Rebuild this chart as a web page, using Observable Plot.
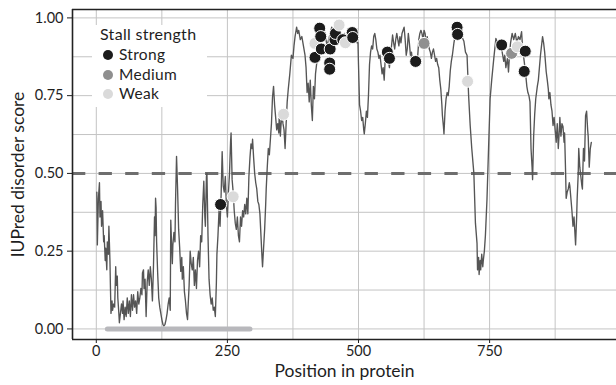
<!DOCTYPE html>
<html>
<head>
<meta charset="utf-8">
<script src="https://cdn.jsdelivr.net/npm/d3@7"></script>
<script src="https://cdn.jsdelivr.net/npm/@observablehq/plot@0.6"></script>
<style>
  html, body { margin: 0; padding: 0; background: #fff; }
  #wrap { position: relative; width: 616px; height: 385px; font-family: Lato, sans-serif; color: #1e1e1e; }
  #legend { position: absolute; left: 92px; top: 25px; width: 115px; height: 82px; background: #fff; }
  #legend .t { position: absolute; left: 8px; top: 0px; font-size: 16px; line-height: 18px; white-space: nowrap; letter-spacing: 0.3px; }
  #legend .i { position: absolute; left: 11px; height: 18px; font-size: 15.5px; line-height: 18px; white-space: nowrap; letter-spacing: 0.3px; }
  #legend .i span.c { display: inline-block; width: 10px; height: 10px; border-radius: 50%; vertical-align: middle; margin-right: 6px; position: relative; top: -1px; }
</style>
</head>
<body>
<div id="wrap"></div>
<script>
// IUPred disorder score profile (position, score)
const positions = [1,2,4,6,7,9,10,12,14,15,17,18,20,21,23,24,26,27,28,30,31,33,35,37,38,40,41,43,44,46,48,50,51,53,55,57,59,61,63,65,67,69,71,73,75,77,79,81,83,85,87,88,90,91,93,95,97,99,101,103,105,107,109,111,112,113,114,115,117,119,121,123,125,127,129,131,133,135,137,139,141,142,143,145,146,148,150,151,153,155,157,159,161,163,164,166,168,170,172,174,175,177,179,181,183,185,187,189,191,193,195,197,199,201,203,205,207,208,210,211,213,215,217,219,221,223,225,227,229,230,232,234,236,238,240,242,244,246,248,250,252,254,256,257,259,261,263,265,267,269,271,273,275,277,279,281,283,285,287,289,291,293,295,297,298,300,302,304,306,308,310,312,314,316,317,319,321,323,324,326,328,330,332,334,336,338,340,342,344,346,348,349,351,352,354,356,358,360,362,364,366,369,372,375,377,379,382,384,386,389,392,395,398,400,402,404,406,408,410,412,414,416,418,420,423,425,428,431,434,437,440,443,446,449,452,455,458,461,464,467,470,473,476,479,482,485,488,491,494,497,499,500,502,504,506,508,510,511,513,515,517,519,521,523,525,527,529,531,533,535,537,539,541,543,545,547,549,551,553,555,557,559,561,563,565,567,569,571,573,575,577,579,581,583,585,587,589,591,593,595,597,599,601,603,605,607,609,611,613,615,617,619,621,623,625,627,629,631,633,635,637,639,641,643,645,647,649,651,653,655,657,659,660,662,663,665,667,669,671,673,675,677,679,682,685,688,691,694,697,701,704,707,710,713,716,720,723,726,727,729,730,732,733,735,737,738,740,742,745,748,751,754,758,762,765,768,771,774,777,779,781,784,786,788,790,793,796,799,802,805,808,811,813,816,819,821,823,825,827,829,831,832,834,836,838,841,843,845,847,849,851,853,855,858,860,862,863,865,867,869,871,873,875,877,879,881,883,884,886,888,890,892,893,895,896,898,900,902,903,905,907,909,911,913,914,916,917,919,920,922,924,926,927,928,929,931,933,935,937,938,940,942,944];
const scores = [0.44,0.27,0.42,0.47,0.36,0.41,0.33,0.38,0.28,0.30,0.22,0.26,0.19,0.28,0.24,0.33,0.22,0.13,0.05,0.09,0.06,0.08,0.07,0.20,0.14,0.17,0.10,0.05,0.02,0.05,0.08,0.05,0.09,0.03,0.07,0.04,0.10,0.05,0.09,0.04,0.11,0.06,0.11,0.07,0.09,0.05,0.12,0.08,0.10,0.13,0.11,0.18,0.19,0.13,0.16,0.04,0.15,0.19,0.14,0.20,0.16,0.09,0.20,0.36,0.30,0.42,0.39,0.28,0.18,0.10,0.07,0.05,0.03,0.015,0.01,0.015,0.03,0.05,0.08,0.10,0.06,0.35,0.30,0.21,0.27,0.31,0.28,0.40,0.555,0.45,0.32,0.26,0.185,0.23,0.16,0.20,0.12,0.09,0.05,0.03,0.07,0.14,0.25,0.21,0.19,0.23,0.14,0.19,0.13,0.22,0.25,0.20,0.30,0.28,0.40,0.475,0.36,0.33,0.49,0.50,0.30,0.16,0.11,0.08,0.10,0.06,0.07,0.04,0.15,0.24,0.30,0.38,0.33,0.43,0.57,0.46,0.44,0.49,0.40,0.36,0.44,0.50,0.60,0.63,0.48,0.44,0.38,0.34,0.32,0.36,0.30,0.28,0.36,0.33,0.38,0.36,0.40,0.37,0.42,0.37,0.49,0.55,0.595,0.58,0.61,0.55,0.50,0.47,0.45,0.41,0.40,0.37,0.30,0.23,0.20,0.26,0.32,0.40,0.45,0.52,0.58,0.56,0.61,0.66,0.745,0.78,0.72,0.68,0.64,0.66,0.63,0.70,0.62,0.65,0.69,0.66,0.64,0.58,0.66,0.73,0.77,0.82,0.88,0.87,0.91,0.94,0.97,0.95,0.96,0.93,0.94,0.91,0.88,0.84,0.76,0.79,0.73,0.80,0.72,0.67,0.78,0.74,0.82,0.85,0.88,0.92,0.95,0.93,0.96,0.94,0.91,0.93,0.95,0.97,0.95,0.96,0.93,0.95,0.97,0.94,0.92,0.95,0.93,0.96,0.94,0.95,0.94,0.96,0.93,0.92,0.92,0.85,0.72,0.70,0.67,0.68,0.64,0.627,0.66,0.70,0.68,0.75,0.85,0.89,0.91,0.90,0.94,0.95,0.93,0.90,0.89,0.87,0.88,0.85,0.82,0.84,0.80,0.87,0.86,0.89,0.86,0.84,0.88,0.91,0.945,0.92,0.90,0.93,0.95,0.93,0.91,0.94,0.92,0.95,0.96,0.97,0.93,0.88,0.90,0.95,0.92,0.88,0.89,0.86,0.87,0.85,0.87,0.86,0.88,0.93,0.95,0.96,0.95,0.93,0.96,0.95,0.92,0.94,0.92,0.90,0.89,0.87,0.89,0.90,0.88,0.86,0.87,0.85,0.84,0.80,0.77,0.72,0.686,0.65,0.627,0.70,0.74,0.76,0.75,0.78,0.83,0.86,0.88,0.92,0.95,0.97,0.96,0.95,0.94,0.925,0.89,0.88,0.75,0.654,0.58,0.50,0.34,0.276,0.19,0.23,0.175,0.22,0.19,0.24,0.20,0.22,0.25,0.30,0.416,0.58,0.74,0.80,0.87,0.934,0.92,0.90,0.92,0.89,0.86,0.88,0.84,0.87,0.826,0.88,0.92,0.95,0.93,0.95,0.92,0.94,0.93,0.956,0.90,0.86,0.815,0.78,0.76,0.75,0.73,0.58,0.52,0.48,0.62,0.69,0.74,0.78,0.80,0.84,0.88,0.91,0.94,0.92,0.89,0.826,0.80,0.77,0.74,0.76,0.72,0.70,0.654,0.68,0.64,0.60,0.66,0.58,0.64,0.68,0.62,0.66,0.65,0.60,0.63,0.50,0.42,0.44,0.45,0.47,0.46,0.42,0.38,0.33,0.36,0.30,0.27,0.36,0.42,0.50,0.58,0.52,0.49,0.46,0.45,0.52,0.58,0.54,0.686,0.70,0.64,0.62,0.52,0.58,0.60];

// Stall sites
const stallPos      = [237,261,357,417,417,426,428,429,445,445,446,455,456,463,470,475,488,489,555,559,609,625,688,689,708,773,792,803,816,818];
const stallScore    = [0.40,0.425,0.69,0.918,0.873,0.967,0.94,0.90,0.855,0.835,0.90,0.93,0.95,0.977,0.93,0.92,0.953,0.937,0.89,0.87,0.86,0.918,0.97,0.947,0.796,0.913,0.886,0.907,0.828,0.893];
const stallStrength = ["Strong","Weak","Weak","Weak","Strong","Strong","Strong","Strong","Strong","Strong","Strong","Strong","Strong","Weak","Strong","Weak","Strong","Strong","Strong","Strong","Strong","Medium","Strong","Strong","Weak","Strong","Medium","Weak","Strong","Strong"];

const strengthLevels = ["Strong","Medium","Weak"];
const strengthColors = ["#1c1c1c","#8f8f8f","#dadada"];

// Highlighted region on the x axis
const regionStart = [21];
const regionEnd = [293];

const xTicks = [0,250,500,750];
const xGrid = [0,125,250,375,500,625,750,875];
const yTicks = [0,0.25,0.5,0.75,1];
const yGrid = [0,0.125,0.25,0.375,0.5,0.625,0.75,0.875,1];
const threshold = [0.5];

const profile = positions.map((p,i)=>({pos:p, score:scores[i]}));
const stalls = stallPos.map((p,i)=>({pos:p, score:stallScore[i], strength:stallStrength[i]}));
const region = regionStart.map((s,i)=>({x1:s, x2:regionEnd[i], y:0}));

const xDom = [-45.4, 992];
const yDom = [-0.034, 1.027];

const chart = Plot.plot({
  width: 616, height: 385,
  marginLeft: 72, marginRight: 0, marginTop: 9, marginBottom: 46,
  style: {fontFamily: "Lato, sans-serif", fontSize: "14px", color: "#1e1e1e", background: "#fff"},
  x: {domain: xDom},
  y: {domain: yDom},
  color: {domain: strengthLevels, range: strengthColors},
  marks: [
    Plot.ruleX(xGrid, {stroke: "#c4c4c4", strokeWidth: 1}),
    Plot.ruleY(yGrid, {stroke: "#c4c4c4", strokeWidth: 1}),
    Plot.ruleY(threshold, {stroke: "#6e6e6e", strokeWidth: 3, strokeDasharray: "13.3,13.3"}),
    Plot.link(region, {x1: "x1", x2: "x2", y1: "y", y2: "y", stroke: "#b8b8bc", strokeWidth: 5, strokeLinecap: "round"}),
    Plot.line(profile, {x: "pos", y: "score", stroke: "#555", strokeWidth: 1.35}),
    Plot.dot(stalls, {x: "pos", y: "score", fill: "strength", stroke: "white", strokeWidth: 1, r: 6}),
    Plot.ruleX([xDom[0]], {stroke: "#222", strokeWidth: 1.6}),
    Plot.ruleY([yDom[0]], {stroke: "#222", strokeWidth: 1.6}),
    Plot.ruleY([yDom[1]], {stroke: "#222", strokeWidth: 1.3}),
    Plot.axisX({ticks: xTicks, tickSize: 4, tickPadding: 2, label: null, fontSize: 14.5}),
    Plot.axisY({ticks: yTicks, tickSize: 5, tickPadding: 4, tickFormat: d3.format(".2f"), label: null, fontSize: 14.5}),
    Plot.text(["Position in protein"], {frameAnchor: "bottom", textAnchor: "middle", lineAnchor: "middle", dy: 32, fontSize: 17.5, fill: "#1e1e1e", letterSpacing: "0.4px"}),
    Plot.text(["IUPred disorder score"], {frameAnchor: "left", textAnchor: "middle", lineAnchor: "middle", dx: -54, rotate: -90, fontSize: 17.5, fill: "#1e1e1e"})
  ]
});

const wrap = document.getElementById("wrap");
wrap.appendChild(chart);

const legend = document.createElement("div");
legend.id = "legend";
const title = document.createElement("div");
title.className = "t";
title.textContent = "Stall strength";
legend.appendChild(title);
strengthLevels.forEach((lvl, i) => {
  const it = document.createElement("div");
  it.className = "i";
  it.style.top = (20 + i * 19.5) + "px";
  const c = document.createElement("span");
  c.className = "c";
  c.style.background = strengthColors[i];
  it.appendChild(c);
  it.appendChild(document.createTextNode(lvl));
  legend.appendChild(it);
});
wrap.appendChild(legend);
</script>
</body>
</html>
